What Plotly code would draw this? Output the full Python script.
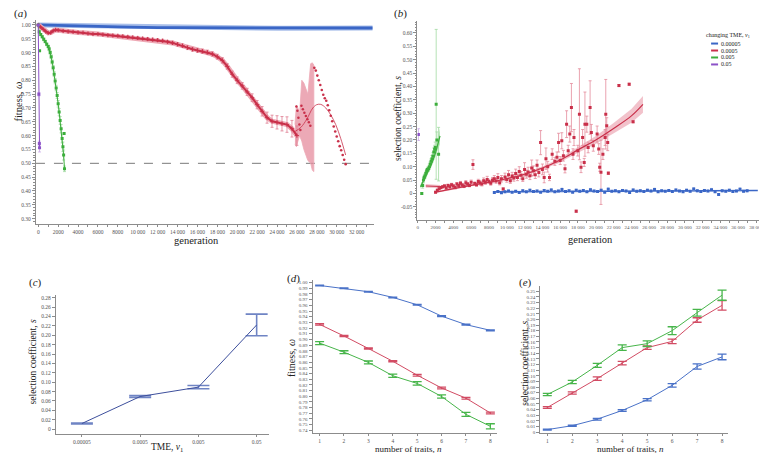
import plotly.graph_objects as go

W, H = 767, 453
SERIF = "Liberation Serif"
BLUE, BLUE_L = "#3a66c6", "#a9bfea"
RED, RED_L = "#c9304a", "#eeaab6"
GREEN, GREEN_L = "#3cae3c", "#a2dba2"
PURPLE, PURPLE_L = "#8c52c8", "#c9a8e8"
AXC = "#8c8c8c"

# ---------------- panel (a): fitness vs generation ----------------
a_threshold = 0.5
a_blue_gen = [0, 1000, 2000, 3000, 4000, 5000, 6000, 7000, 8000, 9000, 10000, 12000, 14000,
              16000, 18000, 20000, 22000, 24000, 26000, 28000, 30000, 32000, 33600]
a_blue_fit = [1.0, 0.9995, 0.999, 0.998, 0.997, 0.996, 0.995, 0.994, 0.993, 0.992, 0.991, 0.990,
              0.990, 0.990, 0.9895, 0.989, 0.988, 0.988, 0.988, 0.989, 0.989, 0.989, 0.989]

a_red_gen = [0, 250, 500, 750, 1000, 1250, 1500, 1750, 2000,
             2500, 3000, 3500, 4000, 4500, 5000, 5500, 6000, 6500, 7000,
             7500, 8000, 8500, 9000, 9500, 10000, 10500, 11000, 11500, 12000,
             12500, 13000, 13500, 14000, 14500, 15000, 15500, 16000, 16500, 17000,
             17500, 18000, 18500, 19000, 19500, 20000, 20500, 21000, 21500, 22000,
             22500, 23000, 23500, 24000, 24500, 25000, 25500, 26000]
a_red_fit = [1.000, 0.992, 0.984, 0.976, 0.971, 0.972, 0.979, 0.982, 0.981,
             0.978, 0.976, 0.975, 0.973, 0.972, 0.969, 0.967, 0.967, 0.965, 0.963,
             0.962, 0.961, 0.959, 0.957, 0.955, 0.953, 0.951, 0.949, 0.947, 0.945,
             0.943, 0.939, 0.935, 0.930, 0.925, 0.918, 0.912, 0.908, 0.905, 0.901,
             0.895, 0.885, 0.872, 0.850, 0.822, 0.800, 0.780, 0.758, 0.737, 0.712,
             0.688, 0.665, 0.652, 0.648, 0.643, 0.640, 0.625, 0.600]
a_red_err = [0, 0.002, 0.002, 0.003, 0.003, 0.003, 0.003, 0.003, 0.003,
             0.003, 0.003, 0.003, 0.003, 0.003, 0.003, 0.003, 0.003, 0.003, 0.003,
             0.003, 0.003, 0.004, 0.004, 0.004, 0.004, 0.004, 0.005, 0.005, 0.005,
             0.005, 0.005, 0.006, 0.006, 0.006, 0.007, 0.007, 0.007, 0.008, 0.008,
             0.008, 0.009, 0.010, 0.010, 0.011, 0.012, 0.012, 0.013, 0.014, 0.015,
             0.017, 0.020, 0.022, 0.024, 0.026, 0.028, 0.030, 0.035]
# late, highly variable region (few surviving replicates)
a_red_band_gen = [25800, 25950, 26100, 26270, 26490, 26700, 26900, 27100, 27380, 27550, 27700]
a_red_band_hi = [0.640, 0.710, 0.700, 0.680, 0.800, 0.790, 0.770, 0.750, 0.860, 0.863, 0.855]
a_red_band_lo = [0.570, 0.560, 0.580, 0.600, 0.580, 0.550, 0.530, 0.510, 0.500, 0.475, 0.470]
a_red_saw_gen = [25950, 26050, 26150, 26250, 26350, 26450, 26600, 26750, 26900, 27050, 27200, 27350]
a_red_saw_fit = [0.705, 0.690, 0.665, 0.640, 0.620, 0.708, 0.695, 0.683, 0.671, 0.659, 0.648, 0.636]
a_red_tail_gen = [27750, 27900, 28050, 28200, 28350, 28500, 28650, 28800, 28950, 29100, 29250,
                  29400, 29550, 29700, 29850, 30000, 30150, 30300, 30450, 30600, 30750, 30900]
a_red_tail_fit = [0.845, 0.835, 0.817, 0.800, 0.783, 0.765, 0.748, 0.735, 0.726, 0.710, 0.692,
                  0.672, 0.652, 0.633, 0.615, 0.597, 0.580, 0.562, 0.547, 0.530, 0.513, 0.497]
a_red_smooth_gen = [25800, 26400, 27000, 27600, 28000, 28400, 28900, 29400, 29900, 30400, 30900]
a_red_smooth_fit = [0.615, 0.630, 0.660, 0.700, 0.712, 0.713, 0.700, 0.675, 0.640, 0.590, 0.530]

a_green_gen = [0, 100, 250, 400, 550, 700, 850, 1000, 1100, 1200, 1300, 1400, 1500, 1600,
               1700, 1800, 1900, 2000, 2100, 2200, 2300, 2400, 2480, 2550, 2640]
a_green_fit = [1.0, 0.975, 0.965, 0.957, 0.948, 0.940, 0.930, 0.922, 0.913, 0.900, 0.885, 0.866,
               0.845, 0.822, 0.797, 0.772, 0.745, 0.715, 0.685, 0.655, 0.625, 0.590, 0.560, 0.530, 0.480]
a_green_err = [0, 0.004, 0.004, 0.004, 0.005, 0.005, 0.005, 0.005, 0.006, 0.006, 0.007, 0.007,
               0.008, 0.009, 0.010, 0.010, 0.011, 0.012, 0.013, 0.014, 0.015, 0.016, 0.017, 0.018, 0.010]
a_green_out_gen = [136, 2600]
a_green_out_fit = [0.907, 0.608]

a_purple_gen = [0, 60, 110, 130]
a_purple_fit = [1.0, 0.750, 0.572, 0.556]
a_purple_err = [0, 0.006, 0.008, 0.015]

# ---------------- panel (b): selection coefficient vs generation ----------------
b_red_gen = [2000, 2200, 2400, 2600, 2800, 3000, 3200, 3400, 3600, 3800, 4000, 4200, 4400, 4600,
             4800, 5000, 5200, 5400, 5600, 5800, 6000, 6200, 6400, 6600, 6800, 7000, 7200, 7400,
             7600, 7800, 8000, 8200, 8400, 8600, 8800, 9000, 9200, 9400, 9600, 9800, 10000, 10200,
             10400, 10600, 10800, 11000, 11200, 11400, 11600, 11800, 12000, 12200, 12400, 12600,
             12800, 13000, 13200, 13400, 13600, 13800, 14000, 14200, 14400, 14600,
             14800, 15100, 15400, 15640, 15820, 16000, 16180, 16360, 16540, 16720, 16900, 17080,
             17260, 17440, 17550, 17800, 17980, 18160, 18340, 18520, 18700, 18780, 18990, 19140,
             19360, 19500, 19720, 20150, 20330, 20440, 20580, 20800, 21050, 21120, 21230, 21340,
             21410, 22600, 23750, 24190]
b_red_s = [0.005, 0.012, 0.018, 0.022, 0.025, 0.028, 0.020, 0.030, 0.025, 0.033, 0.028, 0.022, 0.035,
           0.030, 0.038, 0.032, 0.027, 0.040, 0.035, 0.030, 0.042, 0.108, 0.037, 0.033, 0.045, 0.040,
           0.035, 0.048, 0.042, 0.052, 0.045, 0.038, 0.050, 0.055, 0.047, 0.060, 0.040, 0.055, 0.017,
           0.062, 0.052, 0.070, 0.048, 0.065, 0.058, 0.075, 0.060, 0.082, 0.068, 0.055, 0.090, 0.072,
           0.080, 0.066, 0.095, 0.085, 0.070, 0.105, 0.078, 0.190, 0.090, 0.060, 0.130, 0.100,
           0.060, 0.147, 0.120, 0.135, 0.190, 0.123, 0.197, 0.141, 0.092, 0.259, 0.160, 0.222,
           0.321, 0.147, 0.209, -0.066, 0.160, 0.296, 0.098, 0.209, 0.116, 0.259, 0.259, 0.172,
           0.321, 0.228, 0.178, 0.222, 0.166, 0.098, 0.079, 0.147, 0.209, 0.296, 0.253, 0.190,
           0.076, 0.403, 0.408, 0.268]
b_red_err = [0.003, 0.004, 0.004, 0.005, 0.004, 0.005, 0.004, 0.005, 0.006, 0.005, 0.006, 0.005, 0.006,
             0.005, 0.007, 0.006, 0.005, 0.008, 0.006, 0.005, 0.008, 0.018, 0.006, 0.006, 0.008, 0.009,
             0.007, 0.010, 0.008, 0.012, 0.008, 0.007, 0.010, 0.012, 0.009, 0.014, 0.008, 0.012, 0.004,
             0.014, 0.010, 0.016, 0.010, 0.014, 0.012, 0.016, 0.012, 0.018, 0.014, 0.010, 0.025, 0.015,
             0.018, 0.014, 0.030, 0.018, 0.014, 0.020, 0.016, 0.045, 0.020, 0.020, 0.040, 0.020,
             0.012, 0.020, 0.015, 0.020, 0.035, 0.015, 0.030, 0.020, 0.015, 0.050, 0.020, 0.030,
             0.090, 0.020, 0.030, 0.004, 0.020, 0.170, 0.020, 0.030, 0.015, 0.120, 0.030, 0.020,
             0.100, 0.030, 0.020, 0.030, 0.020, 0.015, 0.120, 0.020, 0.030, 0.130, 0.030, 0.030,
             0.005, 0.004, 0.004, 0.004]
b_red_fit_gen = [2000, 4000, 6000, 8000, 10000, 12000, 14000, 16000, 18000, 20000, 22000, 24000, 25300]
b_red_fit = [0.005, 0.018, 0.030, 0.042, 0.055, 0.072, 0.095, 0.125, 0.163, 0.200, 0.243, 0.290, 0.333]
b_red_fit_ci = [0.003, 0.003, 0.003, 0.003, 0.004, 0.005, 0.006, 0.008, 0.011, 0.015, 0.020, 0.026, 0.031]
b_red_early_gen = [900, 2500]
b_red_early_fit = [0.028, 0.026]
b_red_early_ci = [0.007, 0.006]

b_blue_gen = [8600, 9000, 9400, 9800, 10200, 10600, 11000, 11400, 11800, 12200, 12600, 13000, 13400,
              13800, 14200, 14600, 15000, 15400, 15800, 16200, 16600, 17000, 17400, 17800, 18200,
              18600, 19000, 19400, 19800, 20200, 20600, 21000, 21400, 21800, 22200, 22600, 23000,
              23400, 23800, 24200, 24600, 25000, 25400, 25800, 26200, 26600, 27000, 27400, 27800,
              28200, 28600, 29000, 29400, 29800, 30200, 30600, 31000, 31400, 31800, 32200, 32600,
              33000, 33400, 33800, 34200, 34600, 35000, 35400, 35800, 36200, 36600, 37000]
b_blue_s = [0.004, 0.007, 0.003, 0.006, 0.009, 0.005, 0.008, 0.004, 0.010, 0.006,
            0.012, 0.007, 0.009, 0.005, 0.011, 0.008, 0.013, 0.006, 0.009, 0.015,
            0.007, 0.010, 0.005, 0.012, 0.008, 0.011, 0.006, 0.014, 0.009, 0.007,
            0.012, 0.005, 0.016, 0.008, 0.010, 0.006, 0.011, 0.009, 0.004, 0.013,
            0.008, 0.010, 0.007, 0.012, 0.009, 0.015, 0.006, 0.010, 0.008, 0.011,
            0.007, 0.013, 0.009, 0.006, 0.012, 0.008, 0.017, 0.010, 0.007, 0.011,
            0.009, 0.014, 0.006, -0.004, 0.010, 0.008, 0.012, 0.007, 0.009, 0.016,
            0.008, 0.010]
b_blue_err = [0.002, 0.003, 0.002, 0.003, 0.004, 0.002, 0.003, 0.002, 0.004, 0.003,
              0.004, 0.003, 0.003, 0.002, 0.004, 0.003, 0.005, 0.002, 0.003, 0.005,
              0.003, 0.004, 0.002, 0.004, 0.003, 0.004, 0.002, 0.005, 0.003, 0.003,
              0.004, 0.002, 0.005, 0.003, 0.004, 0.002, 0.004, 0.003, 0.002, 0.004,
              0.003, 0.004, 0.003, 0.004, 0.003, 0.005, 0.002, 0.004, 0.003, 0.004,
              0.003, 0.004, 0.003, 0.002, 0.004, 0.003, 0.005, 0.004, 0.003, 0.004,
              0.003, 0.005, 0.002, 0.003, 0.004, 0.003, 0.004, 0.003, 0.003, 0.005,
              0.003, 0.004]
b_blue_fit_gen = [8500, 38200]
b_blue_fit = [0.006, 0.011]

b_green_gen = [450, 550, 640, 720, 800, 900, 1000, 1100, 1200, 1300, 1400, 1500, 1600, 1700,
               1800, 1900, 1960, 2070, 2150, 2340]
b_green_s = [0.0, 0.030, 0.050, 0.060, 0.065, 0.075, 0.085, 0.090, 0.092, 0.100, 0.110, 0.120,
             0.130, 0.140, 0.155, 0.165, 0.172, 0.333, 0.200, 0.147]
b_green_err = [0.003, 0.010, 0.010, 0.008, 0.008, 0.008, 0.008, 0.008, 0.009, 0.010, 0.010, 0.010,
               0.012, 0.012, 0.015, 0.015, 0.020, 0.280, 0.030, 0.100]
b_green_fit_gen = [300, 600, 900, 1200, 1500, 1800, 2100, 2500]
b_green_fit = [0.025, 0.045, 0.065, 0.085, 0.107, 0.133, 0.165, 0.215]
b_green_fit_ci = [0.008, 0.006, 0.005, 0.006, 0.008, 0.012, 0.020, 0.030]

b_purple_gen = [75]
b_purple_s = [0.22]
b_purple_err = [0.022]

legend_labels = ["0.00005", "0.0005", "0.005", "0.05"]

# ---------------- panel (c) ----------------
c_tme = ["0.00005", "0.0005", "0.005", "0.05"]
c_s = [0.012, 0.0695, 0.0895, 0.222]
c_err = [0.0008, 0.002, 0.0035, 0.023]

# ---------------- panel (d) ----------------
d_n = [1, 2, 3, 4, 5, 6, 7, 8]
d_blue = [0.995, 0.990, 0.984, 0.974, 0.961, 0.941, 0.926, 0.916]
d_blue_err = [0.0005, 0.0005, 0.0005, 0.0006, 0.0006, 0.0007, 0.0007, 0.0008]
d_red = [0.9265, 0.906, 0.884, 0.8615, 0.837, 0.8145, 0.7965, 0.7705]
d_red_err = [0.0012, 0.0012, 0.0012, 0.0012, 0.0015, 0.0015, 0.0015, 0.0015]
d_green = [0.8935, 0.8775, 0.8595, 0.836, 0.8225, 0.7995, 0.768, 0.747]
d_green_err = [0.0025, 0.0025, 0.0025, 0.003, 0.003, 0.003, 0.0035, 0.0045]

# ---------------- panel (e) ----------------
e_n = [1, 2, 3, 4, 5, 6, 7, 8]
e_blue = [0.0045, 0.0115, 0.023, 0.0385, 0.0575, 0.083, 0.1165, 0.1335]
e_blue_err = [0.0008, 0.001, 0.0015, 0.0015, 0.002, 0.003, 0.0045, 0.005]
e_red = [0.0437, 0.0695, 0.095, 0.1225, 0.150, 0.161, 0.199, 0.225]
e_red_err = [0.0015, 0.002, 0.003, 0.003, 0.003, 0.004, 0.004, 0.0085]
e_green = [0.0667, 0.089, 0.1185, 0.150, 0.157, 0.180, 0.212, 0.243]
e_green_err = [0.002, 0.003, 0.0035, 0.005, 0.005, 0.007, 0.006, 0.009]

fig = go.Figure()


def X(px):
    return px / W


def Y(py):
    return 1 - py / H


def err(arr, color, width=1.5, thick=0.8):
    return dict(type="data", array=arr, color=color, thickness=thick, width=width, visible=True)


# ---- (a) traces ----
A = dict(xaxis="x", yaxis="y")
fig.add_trace(go.Scatter(x=[a_blue_gen[0] - 230, 33700], y=[a_threshold, a_threshold], mode="lines",
                         line=dict(color="#7a7a7a", width=1, dash="dash"), **A))
fig.add_trace(go.Scatter(x=a_red_band_gen + a_red_band_gen[::-1], y=a_red_band_hi + a_red_band_lo[::-1],
                         fill="toself", fillcolor="rgba(230,140,158,0.75)", mode="lines",
                         line=dict(color=RED_L, width=0.8), **A))
fig.add_trace(go.Scatter(x=a_blue_gen, y=a_blue_fit, mode="lines", line=dict(color=BLUE_L, width=5), **A))
fig.add_trace(go.Scatter(x=a_blue_gen, y=a_blue_fit, mode="lines", line=dict(color=BLUE, width=2.8), **A))
fig.add_trace(go.Scatter(x=a_red_gen, y=a_red_fit, mode="lines", line=dict(color=RED_L, width=5), **A))
fig.add_trace(go.Scatter(x=a_red_gen, y=a_red_fit, mode="lines+markers",
                         line=dict(color=RED, width=2),
                         marker=dict(color=RED, size=3, symbol="cross-thin", line=dict(color=RED, width=1)),
                         error_y=err(a_red_err, "#e07e92", 1.5, 0.8), **A))
fig.add_trace(go.Scatter(x=a_red_saw_gen, y=a_red_saw_fit, mode="markers",
                         marker=dict(color=RED, size=2.5), **A))
fig.add_trace(go.Scatter(x=a_red_smooth_gen, y=a_red_smooth_fit, mode="lines",
                         line=dict(color=RED, width=0.8, shape="spline"), **A))
fig.add_trace(go.Scatter(x=a_red_tail_gen, y=a_red_tail_fit, mode="markers",
                         marker=dict(color=RED, size=2.6), **A))
fig.add_trace(go.Scatter(x=a_green_gen, y=a_green_fit, mode="lines+markers",
                         line=dict(color=GREEN, width=1),
                         marker=dict(color=GREEN, size=3, symbol="square"),
                         error_y=err(a_green_err, GREEN_L, 1.5, 0.8), **A))
fig.add_trace(go.Scatter(x=a_green_out_gen, y=a_green_out_fit, mode="markers",
                         marker=dict(color=GREEN, size=3, symbol="square"), **A))
fig.add_trace(go.Scatter(x=a_purple_gen, y=a_purple_fit, mode="lines+markers",
                         line=dict(color=PURPLE, width=1),
                         marker=dict(color=PURPLE, size=3, symbol="square"),
                         error_y=err(a_purple_err, PURPLE_L, 1.5, 0.8), **A))

# ---- (b) traces ----
B = dict(xaxis="x2", yaxis="y2")


def band(gen, fit, ci, color, **ax):
    hi = [f + c for f, c in zip(fit, ci)]
    lo = [f - c for f, c in zip(fit, ci)]
    return go.Scatter(x=gen + gen[::-1], y=hi + lo[::-1], fill="toself", fillcolor=color,
                      mode="lines", line=dict(width=0), hoverinfo="skip", **ax)


fig.add_trace(band(b_red_early_gen, b_red_early_fit, b_red_early_ci, "rgba(226,120,140,0.45)", **B))
fig.add_trace(go.Scatter(x=b_red_early_gen, y=b_red_early_fit, mode="lines", line=dict(color=RED, width=1), **B))
fig.add_trace(band(b_red_fit_gen, b_red_fit, b_red_fit_ci, "rgba(226,120,140,0.45)", **B))
fig.add_trace(band(b_green_fit_gen, b_green_fit, b_green_fit_ci, "rgba(110,200,110,0.45)", **B))
fig.add_trace(go.Scatter(x=b_blue_fit_gen, y=b_blue_fit, mode="lines", line=dict(color=BLUE, width=1.5), **B))
fig.add_trace(go.Scatter(x=b_red_gen, y=b_red_s, mode="markers",
                         marker=dict(color=RED, size=3, symbol="square"),
                         error_y=err(b_red_err, "#e58c9c", 1.5, 0.8), **B))
fig.add_trace(go.Scatter(x=b_blue_gen, y=b_blue_s, mode="markers",
                         marker=dict(color=BLUE, size=3, symbol="square"),
                         error_y=err(b_blue_err, BLUE_L, 1.2, 0.8), **B))
fig.add_trace(go.Scatter(x=b_red_fit_gen, y=b_red_fit, mode="lines", line=dict(color=RED, width=1.2, shape="spline"), **B))
fig.add_trace(go.Scatter(x=b_green_gen, y=b_green_s, mode="markers",
                         marker=dict(color=GREEN, size=3, symbol="square"),
                         error_y=err(b_green_err, GREEN_L, 1.5, 0.8), **B))
fig.add_trace(go.Scatter(x=b_green_fit_gen, y=b_green_fit, mode="lines", line=dict(color=GREEN, width=1.2, shape="spline"), **B))
fig.add_trace(go.Scatter(x=b_purple_gen, y=b_purple_s, mode="markers",
                         marker=dict(color=PURPLE, size=3, symbol="square"),
                         error_y=err(b_purple_err, PURPLE_L, 1.5, 0.8), **B))

# ---- (c) ----
c_x = list(range(len(c_tme)))
fig.add_trace(go.Scatter(x=c_x, y=c_s, mode="lines", line=dict(color="#3d4f9c", width=1),
                         error_y=err(c_err, "#6f84c4", 11, 1.6), xaxis="x3", yaxis="y3"))

# ---- (d) ----
for ys, es, col in [(d_blue, d_blue_err, "#4a72c8"), (d_red, d_red_err, "#d24b63"), (d_green, d_green_err, "#47b54a")]:
    fig.add_trace(go.Scatter(x=d_n, y=ys, mode="lines", line=dict(color=col, width=1),
                             error_y=err(es, col, 4.5, 1.3), xaxis="x4", yaxis="y4"))

# ---- (e) ----
for ys, es, col in [(e_blue, e_blue_err, "#4a72c8"), (e_red, e_red_err, "#d24b63"), (e_green, e_green_err, "#47b54a")]:
    fig.add_trace(go.Scatter(x=e_n, y=ys, mode="lines", line=dict(color=col, width=1),
                             error_y=err(es, col, 4.5, 1.3), xaxis="x5", yaxis="y5"))


# ---- axes ----
def axis(domain, rng, anchor, tickvals, ticktext, size=6, minor=None, ticklen=3):
    d = dict(domain=domain, range=rng, anchor=anchor, showline=True, linecolor=AXC, linewidth=1,
             ticks="outside", ticklen=ticklen, tickcolor=AXC, tickwidth=1, showgrid=False, zeroline=False,
             tickvals=tickvals, ticktext=ticktext, tickangle=0,
             tickfont=dict(family=SERIF, size=size, color="#555"))
    if minor:
        d["minor"] = dict(ticks="outside", ticklen=1.5, tickcolor=AXC, dtick=minor)
    return d


def gen_label(v):
    return str(v) if v < 10000 else f"{v // 1000} 000"


a_xt = list(range(0, 32001, 2000))
a_yt = [round(0.30 + 0.05 * i, 2) for i in range(15)]
b_xt = list(range(0, 38001, 2000))
b_yt = [round(-0.10 + 0.05 * i, 2) for i in range(15)]
c_yt = [round(0.02 * i, 2) for i in range(15)]
d_yt = [round(0.74 + 0.01 * i, 2) for i in range(27)]
e_yt = [round(0.01 * i, 2) for i in range(26)]


def ylab(v):
    return "0" if abs(v) < 1e-9 else f"{v:.2f}"


fig.update_layout(
    width=W, height=H, margin=dict(l=0, r=0, t=0, b=0),
    paper_bgcolor="white", plot_bgcolor="white", showlegend=False,
    xaxis=axis([X(27), X(365)], [-230, 33700], "y", a_xt, [gen_label(v) for v in a_xt], 5.5, 1000, 2),
    yaxis=axis([Y(217), Y(12)], [0.2806, 1.018], "x", a_yt, [f"{v:.2f}" for v in a_yt], 5.5, 0.01),
    xaxis2=axis([X(409), X(762)], [-33, 39571], "y2", b_xt, [gen_label(v) for v in b_xt], 5, 1000, 2),
    yaxis2=axis([Y(213), Y(13)], [-0.0993, 0.6446], "x2", b_yt, [ylab(v) for v in b_yt], 5.5, 0.01),
    xaxis3=axis([X(47), X(260)], [-0.446, 3.206], "y3", c_x, c_tme, 5.5, None, 2),
    yaxis3=axis([Y(428), Y(288)], [-0.0106, 0.2864], "x3", c_yt, [ylab(v) for v in c_yt], 5.5),
    xaxis4=axis([X(304), X(489)], [0.713, 8.287], "y4", d_n, [str(v) for v in d_n], 5.5, None, 2),
    yaxis4=axis([Y(427), Y(273)], [0.735, 1.005], "x4", d_yt, [f"{v:.2f}" for v in d_yt], 5),
    xaxis5=axis([X(532), X(720)], [0.72, 8.24], "y5", e_n, [str(v) for v in e_n], 5.5, None, 2),
    yaxis5=axis([Y(427), Y(279)], [-0.0017, 0.2597], "x5", e_yt, [ylab(v) for v in e_yt], 5),
)

ann = []


def text(px, py, s, size=10, angle=0, xanchor="center"):
    ann.append(dict(x=X(px), y=Y(py), xref="paper", yref="paper", text=s, showarrow=False,
                    textangle=angle, xanchor=xanchor, yanchor="middle",
                    font=dict(family=SERIF, size=size, color="#222")))


# panel labels
text(12, 6, "(<i>a</i>)", 11)
text(392, 6, "(<i>b</i>)", 11)
text(27, 276, "(<i>c</i>)", 11)
text(285, 272, "(<i>d</i>)", 11)
text(517, 276, "(<i>e</i>)", 11)
# axis titles
text(10, 94, "fitness, <i>ω</i>", 10.5, -90)
text(188, 233.5, "generation", 10.5)
text(389, 111, "selection coefficient, <i>s</i>", 9.5, -90)
text(582, 233, "generation", 10.5)
text(24, 355, "selection coefficient, <i>s</i>", 9.5, -90)
text(158, 441.5, "TME, <i>v</i><sub>1</sub>", 9.5)
text(400, 443, "number of traits, <i>n</i>", 9)
text(283, 352, "fitness, <i>ω</i>", 10, -90)
text(517, 357, "selection coefficient, <i>s</i>", 9.5, -90)
text(622, 443, "number of traits, <i>n</i>", 9)

# legend (panel b)
text(696, 28, "changing TME, <i>v</i><sub>1</sub>", 6, 0, "left")
shapes = []
for i, (lab, col) in enumerate(zip(legend_labels, [BLUE, RED, GREEN, PURPLE])):
    py = 35.7 + 7 * i
    shapes.append(dict(type="line", xref="paper", yref="paper", x0=X(703), x1=X(710), y0=Y(py), y1=Y(py),
                       line=dict(color=col, width=2)))
    text(711, py, lab, 6, 0, "left")

fig.update_layout(annotations=ann, shapes=shapes)
fig.write_html("out.html")
